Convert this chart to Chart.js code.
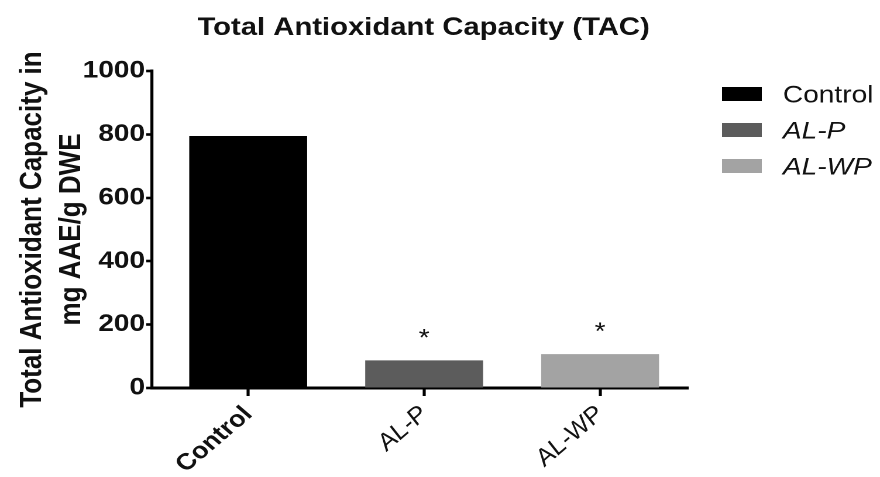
<!DOCTYPE html>
<html><head><meta charset="utf-8">
<script src="https://cdn.jsdelivr.net/npm/chart.js@4.4.1/dist/chart.umd.min.js"></script>
<style>
html,body{margin:0;padding:0;background:#fff;overflow:hidden;width:880px;height:477px;}
#wrap{position:absolute;left:0;top:0;width:752px;height:477px;transform:scaleX(1.1702);transform-origin:0 0;}
</style></head><body>
<div id="wrap"><canvas id="c" width="752" height="477"></canvas></div>
<script>
const categories = ['Control', 'AL-P', 'AL-WP'];
const tacValues = [795, 87, 107];
const barColors = ['#000000', '#5c5c5c', '#a3a3a3'];
const significance = ['', '*', '*'];
const italicCategory = [false, true, true];
const yTickValues = [0, 200, 400, 600, 800, 1000];
const chartTitle = 'Total Antioxidant Capacity (TAC)';
const yAxisTitle = ['Total Antioxidant Capacity in', 'mg AAE/g DWE'];

const FONT = '"Liberation Sans", Arial, Helvetica, sans-serif';
const TEXT = '#111111';

const decor = {
  id: 'decor',
  afterDraw(chart) {
    const ctx = chart.ctx;
    ctx.save();
    // title
    ctx.fillStyle = TEXT;
    ctx.font = 'bold 25px ' + FONT;
    ctx.textAlign = 'center';
    ctx.textBaseline = 'alphabetic';
    ctx.fillText(chartTitle, 362, 35);
    // significance markers
    const meta = chart.getDatasetMeta(0);
    ctx.font = '24px ' + FONT;
    meta.data.forEach((bar, i) => {
      if (significance[i]) ctx.fillText(significance[i], bar.x, bar.y - 15);
    });
    // legend
    const lx = 617, lw = 34, lh = 14, tx = 669;
    const rows = [94, 130, 166];
    ctx.textAlign = 'left';
    categories.forEach((c, i) => {
      ctx.fillStyle = barColors[i];
      ctx.fillRect(lx, rows[i] - lh / 2, lw, lh);
      ctx.fillStyle = TEXT;
      ctx.font = (italicCategory[i] ? 'italic ' : '') + '24px ' + FONT;
      ctx.fillText(c, tx, rows[i] + 8.5);
    });
    ctx.restore();
  }
};

new Chart(document.getElementById('c'), {
  type: 'bar',
  data: {
    datasets: [{
      data: categories.map((c, i) => ({ x: i, y: tacValues[i] })),
      backgroundColor: barColors,
      borderWidth: 0,
      barPercentage: 0.67,
      categoryPercentage: 1.0
    }]
  },
  options: {
    responsive: false,
    animation: false,
    devicePixelRatio: 2,
    layout: { padding: { top: 71, right: 164, left: 0, bottom: 0 } },
    plugins: { legend: { display: false }, title: { display: false }, tooltip: { enabled: false } },
    scales: {
      x: {
        type: 'linear',
        min: -0.546,
        max: 2.5,
        offset: false,
        afterBuildTicks: s => { s.ticks = categories.map((c, i) => ({ value: i })); },
        afterFit: s => { s.height = 89; },
        border: { display: true, color: '#000', width: 3 },
        grid: { display: true, drawOnChartArea: false, drawTicks: true, tickLength: 8, tickWidth: 2.6, tickColor: '#000', offset: false },
        ticks: {
          autoSkip: false,
          minRotation: 45,
          maxRotation: 45,
          padding: 5,
          color: TEXT,
          callback: v => categories[v] ?? '',
          font: ctx => ({ family: FONT, size: 23, weight: italicCategory[ctx.index] ? 'normal' : 'bold', style: italicCategory[ctx.index] ? 'italic' : 'normal' })
        }
      },
      y: {
        min: 0,
        max: 1000,
        afterBuildTicks: s => { s.ticks = yTickValues.map(v => ({ value: v })); },
        afterFit: s => { s.width = 130; },
        border: { display: true, color: '#000', width: 2.6 },
        grid: { display: true, drawOnChartArea: false, drawTicks: true, tickLength: 5, tickWidth: 2.6, tickColor: '#000' },
        ticks: { padding: 1, color: TEXT, callback: v => String(v), font: { family: FONT, size: 24, weight: 'bold' } },
        title: {
          display: true,
          text: yAxisTitle,
          color: TEXT,
          padding: { top: 11, bottom: 0 },
          font: { family: FONT, size: 26, weight: 'bold', lineHeight: 1.29 }
        }
      }
    }
  },
  plugins: [decor]
});
</script>
</body></html>
